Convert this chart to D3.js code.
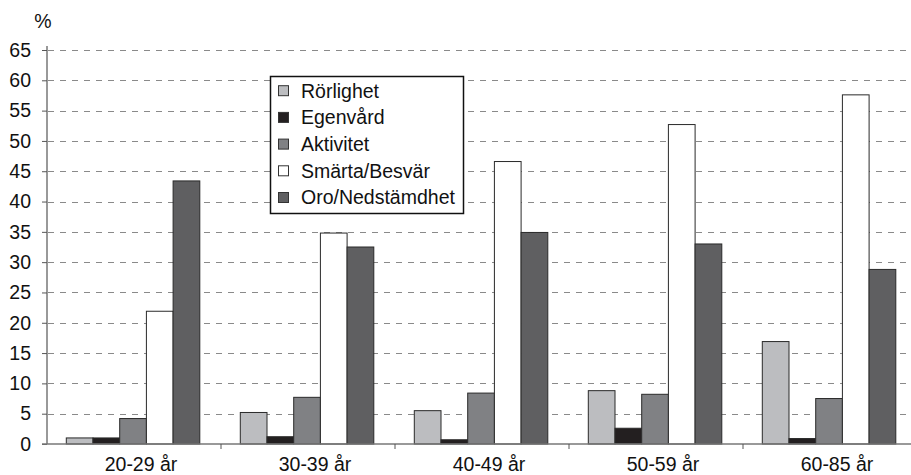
<!DOCTYPE html>
<html><head><meta charset="utf-8">
<script src="https://cdn.jsdelivr.net/npm/d3@7"></script>
<style>body{margin:0;background:#fff;} svg{display:block;font-family:"Liberation Sans",Arial,sans-serif;}</style>
</head><body><svg id="c" width="911" height="475"></svg>
<script>
const categories = ["20-29 år","30-39 år","40-49 år","50-59 år","60-85 år"];
const seriesNames = ["Rörlighet","Egenvård","Aktivitet","Smärta/Besvär","Oro/Nedstämdhet"];
const seriesColors = ["#bcbdc0","#231f20","#808184","#ffffff","#5f5f61"];
const rorlighet = [1.0, 5.2, 5.5, 8.8, 16.9];
const egenvard  = [1.0, 1.2, 0.7, 2.6, 0.9];
const aktivitet = [4.2, 7.7, 8.4, 8.2, 7.5];
const smarta    = [21.9, 34.8, 46.6, 52.7, 57.6];
const oro       = [43.4, 32.5, 34.9, 33.0, 28.8];
const yTicks = [0,5,10,15,20,25,30,35,40,45,50,55,60,65];

(function(){
const FS = 19.5;
const seriesValues = [rorlighet, egenvard, aktivitet, smarta, oro];
const svg = d3.select("#c");
const mLeft = 47, mRight = 917, mTop = 50, mBottom = 444;
const x0 = d3.scaleBand().domain(categories).range([mLeft, mRight]).padding(0);
const x1 = d3.scaleBand().domain(seriesNames).range([19.3, 19.3+133.5]).padding(0);
const y = d3.scaleLinear().domain([0, 65]).range([mBottom, mTop]);

// gridlines
svg.append("g").selectAll("line").data(yTicks.filter(d=>d>0)).join("line")
  .attr("x1", mLeft).attr("x2", 911).attr("y1", d=>Math.round(y(d))+0.5).attr("y2", d=>Math.round(y(d))+0.5)
  .attr("stroke", "#8a8a8a").attr("stroke-width", 1).attr("stroke-dasharray", "6,6")
  .attr("stroke-dashoffset", -1);

// bars
const groups = svg.append("g").selectAll("g").data(categories).join("g")
  .attr("transform", d=>`translate(${x0(d)},0)`);
groups.selectAll("rect").data((c,i)=>seriesNames.map((s,j)=>({s, v: seriesValues[j][i], j})))
  .join("rect")
  .attr("x", d=>x1(d.s)).attr("width", x1.bandwidth())
  .attr("y", d=>y(d.v)).attr("height", d=>mBottom - y(d.v))
  .attr("fill", d=>seriesColors[d.j]).attr("stroke", "#2a2a2a").attr("stroke-width", 1);

// y axis
const yAxis = d3.axisLeft(y).tickValues(yTicks).tickSize(5).tickPadding(11);
const ga = svg.append("g").attr("transform", `translate(${mLeft},0)`).call(yAxis);
ga.select(".domain").attr("stroke", "#777").attr("stroke-width", 1.5).attr("d", `M0,${mTop-4}V${mBottom}`);
ga.selectAll(".tick line").attr("stroke", "#555");
ga.selectAll("text").attr("font-size", FS).attr("fill", "#111").attr("font-family", "Liberation Sans, Arial, sans-serif");

// x axis
const xAxis = d3.axisBottom(x0).tickSize(0).tickPadding(13);
const gx = svg.append("g").attr("transform", `translate(0,${mBottom})`).call(xAxis);
gx.select(".domain").attr("stroke", "#777").attr("stroke-width", 1.5).attr("d", `M${mLeft-5},0H911`);
gx.selectAll("text").attr("font-size", FS).attr("fill", "#111").attr("dx", 7)
  .attr("font-family", "Liberation Sans, Arial, sans-serif");
svg.append("g").selectAll("line").data(categories.slice(1)).join("line")
  .attr("x1", d=>x0(d)).attr("x2", d=>x0(d)).attr("y1", mBottom).attr("y2", mBottom+5)
  .attr("stroke", "#555");

// % label
svg.append("text").attr("x", 43).attr("y", 28).attr("text-anchor", "middle")
  .attr("font-size", FS).attr("fill", "#111").text("%");

// legend
const lg = svg.append("g");
lg.append("rect").attr("x", 270.5).attr("y", 76.5).attr("width", 193).attr("height", 137)
  .attr("fill", "#fff").attr("stroke", "#111").attr("stroke-width", 1.5);
const items = lg.selectAll("g.it").data(seriesNames).join("g").attr("class","it")
  .attr("transform", (d,i)=>`translate(0,${90.7 + i*26.7})`);
items.append("rect").attr("x", 278.5).attr("y", -5).attr("width", 10).attr("height", 10)
  .attr("fill", (d,i)=>seriesColors[i]).attr("stroke", "#333").attr("stroke-width", 1);
items.append("text").attr("x", 301).attr("y", 0).attr("dy", "0.35em")
  .attr("font-size", FS).attr("fill", "#111").text(d=>d);
})();
</script></body></html>
